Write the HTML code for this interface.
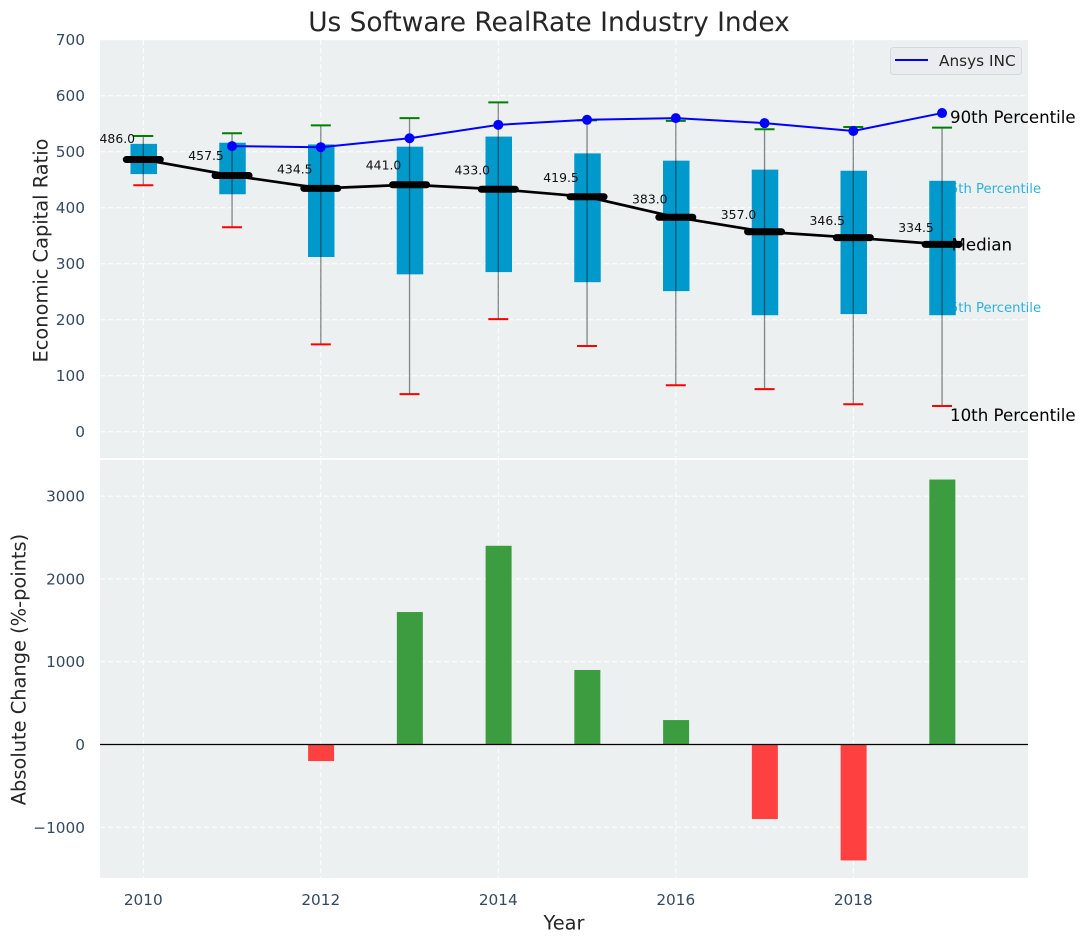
<!DOCTYPE html>
<html lang="en">
<head>
<meta charset="utf-8">
<title>Us Software RealRate Industry Index</title>
<style>
html,body{margin:0;padding:0;background:#fff;width:1085px;height:942px;overflow:hidden}
svg{display:block;font-family:"DejaVu Sans","Liberation Sans",sans-serif}
</style>
</head>
<body>
<svg id="chart" xmlns="http://www.w3.org/2000/svg" width="1085" height="942" viewBox="0 0 1085 942"></svg>
<script>
const years = [2010, 2011, 2012, 2013, 2014, 2015, 2016, 2017, 2018, 2019];
const p90 = [528, 533, 547, 560, 588, 556, 555, 540, 544, 543];
const p75 = [514, 516, 513, 509, 527, 497, 484, 468, 466, 448];
const medianValues = [486.0, 457.5, 434.5, 441.0, 433.0, 419.5, 383.0, 357.0, 346.5, 334.5];
const p25 = [460, 424, 312, 281, 285, 267, 251, 208, 210, 208];
const p10 = [440, 365, 156, 67, 201, 153, 83, 76, 49, 46];
const ansysYears = [2011, 2012, 2013, 2014, 2015, 2016, 2017, 2018, 2019];
const ansysValues = [510, 508, 524, 548, 557, 560, 551, 537, 569];
const changeYears = [2012, 2013, 2014, 2015, 2016, 2017, 2018, 2019];
const changeValues = [-200, 1600, 2400, 900, 295, -900, -1400, 3200];
const xTicks = [2010, 2012, 2014, 2016, 2018];
const topTicks = [0, 100, 200, 300, 400, 500, 600, 700];
const bottomTicks = [-1000, 0, 1000, 2000, 3000];

const NS = 'http://www.w3.org/2000/svg';
const svg = document.getElementById('chart');
const X = v => 143.3 + (v - 2010) * 88.75;
const YT = v => 431.7 - v * 0.56;
const YB = v => 744.5 - v * 0.0828;
const L = 100, R = 1028, T1 = 40, B1 = 458, T2 = 460, B2 = 878;

function mk(tag, attrs, parent) {
  const e = document.createElementNS(NS, tag);
  for (const k in attrs) e.setAttribute(k, attrs[k]);
  (parent || svg).appendChild(e);
  return e;
}
function label(str, attrs, parent) {
  const e = mk('text', attrs, parent);
  e.textContent = str;
  return e;
}

// panels
const topPanel = mk('rect', {x: L, y: T1, width: R - L, height: B1 - T1, fill: '#ecf0f1'});


const bottomPanel = mk('rect', {x: L, y: T2, width: R - L, height: B2 - T2, fill: '#ecf0f1'});



// grid
const grid = {stroke: '#ffffff', 'stroke-width': 1, 'stroke-dasharray': '5 3'};
xTicks.forEach(t => {
  const a = mk('line', {x1: X(t), x2: X(t), y1: T1, y2: B1, ...grid});
  
  
  const b = mk('line', {x1: X(t), x2: X(t), y1: T2, y2: B2, ...grid});
  
  
  const s = label(String(t), {x: X(t), y: 905, 'text-anchor': 'middle', 'font-size': 15.3, fill: '#34495e'});
  
  
});
topTicks.forEach(t => {
  const a = mk('line', {x1: L, x2: R, y1: YT(t), y2: YT(t), ...grid});
  
  
  const s = label(String(t), {x: 85, y: YT(t) + 5.5, 'text-anchor': 'end', 'font-size': 15.3, fill: '#34495e'});
  
  
});
bottomTicks.forEach(t => {
  const a = mk('line', {x1: L, x2: R, y1: YB(t), y2: YB(t), ...grid});
  
  
  const s = label(String(t).replace('-', '\u2212'), {x: 85, y: YB(t) + 5.5, 'text-anchor': 'end', 'font-size': 15.3, fill: '#34495e'});
  
  
});

// side annotations that sit beneath the boxes
const note75 = label('75th Percentile', {x: 941.5, y: YT(p75[9]) + 12, 'font-size': 13.2, fill: '#1ba8d5', 'fill-opacity': .9});


const note25 = label('25th Percentile', {x: 941.5, y: YT(p25[9]) - 3, 'font-size': 13.2, fill: '#1ba8d5', 'fill-opacity': .9});



// boxes
years.forEach((y, i) => {
  const b = mk('rect', {x: X(y) - 13.2 + .4, y: YT(p75[i]), width: 26.5, height: YT(p25[i]) - YT(p75[i]), fill: '#0099cc'});
  
  
});
// whiskers
years.forEach((y, i) => {
  const w = mk('line', {x1: X(y), x2: X(y), y1: YT(p90[i]), y2: YT(p10[i]), stroke: '#000', 'stroke-opacity': .45, 'stroke-width': 1.3});
  
  
  const hi = mk('line', {x1: X(y) - 10, x2: X(y) + 10, y1: YT(p90[i]), y2: YT(p90[i]), stroke: '#008000', 'stroke-width': 2});
  
  
  const lo = mk('line', {x1: X(y) - 10, x2: X(y) + 10, y1: YT(p10[i]), y2: YT(p10[i]), stroke: '#ff0000', 'stroke-width': 2});
  
  
});

// ansys line
const ansysLine = mk('polyline', {points: ansysYears.map((y, i) => X(y) + ',' + YT(ansysValues[i])).join(' '), fill: 'none', stroke: '#0000ff', 'stroke-width': 2});


ansysYears.forEach((y, i) => {
  const c = mk('circle', {cx: X(y), cy: YT(ansysValues[i]), r: 5, fill: '#0000ff'});
  
  
});

// medians
const medianLine = mk('polyline', {points: years.map((y, i) => X(y) + ',' + YT(medianValues[i])).join(' '), fill: 'none', stroke: '#000', 'stroke-width': 2.7});


years.forEach((y, i) => {
  const m = mk('line', {x1: X(y) - 17, x2: X(y) + 17, y1: YT(medianValues[i]), y2: YT(medianValues[i]), stroke: '#000', 'stroke-width': 7, 'stroke-linecap': 'round'});
  
  
  const s = label(medianValues[i].toFixed(1), {x: X(y) - 26, y: YT(medianValues[i] * 1.05 + 5), 'text-anchor': 'middle', 'font-size': 12.4, fill: '#111'});
  
  
});

// other side annotations
const note90 = label('90th Percentile', {x: 950, y: 123, 'font-size': 16.65, fill: '#000'});


const noteMedian = label('Median', {x: 951.5, y: 250.5, 'font-size': 16.65, fill: '#000'});


const note10 = label('10th Percentile', {x: 950, y: 421, 'font-size': 16.65, fill: '#000'});



// change bars
changeYears.forEach((y, i) => {
  const v = changeValues[i];
  const b = mk('rect', {x: X(y) - 13 + .3, y: Math.min(YB(0), YB(v)), width: 26, height: Math.abs(YB(v) - YB(0)), fill: v >= 0 ? '#3c9c40' : '#ff4040'});
  
  
});
const zero = mk('line', {x1: L, x2: R, y1: YB(0), y2: YB(0), stroke: '#000', 'stroke-width': 1.3});



// legend
const legendBox = mk('rect', {x: 890.5, y: 47.5, width: 131, height: 27, rx: 3, fill: '#eaecf0', stroke: '#d5d8dc', 'stroke-width': 1});


const legendLine = mk('line', {x1: 895, x2: 928, y1: 60, y2: 60, stroke: '#0000ff', 'stroke-width': 2});


const legendText = label('Ansys INC', {x: 939, y: 66, 'font-size': 15.3, fill: '#262626'});



// titles
const title = label('Us Software RealRate Industry Index', {x: 549, y: 31, 'text-anchor': 'middle', 'font-size': 26.4, fill: '#262626'});


const xTitle = label('Year', {x: 564, y: 929.5, 'text-anchor': 'middle', 'font-size': 19.4, fill: '#262626'});


const yTop = label('Economic Capital Ratio', {x: 0, y: 0, transform: 'translate(47.5,250.5) rotate(-90)', 'text-anchor': 'middle', 'font-size': 19.4, fill: '#262626'});


const yBottom = label('Absolute Change (%-points)', {x: 0, y: 0, transform: 'translate(25.5,669.5) rotate(-90)', 'text-anchor': 'middle', 'font-size': 19.4, fill: '#262626'});


</script>
</body>
</html>
